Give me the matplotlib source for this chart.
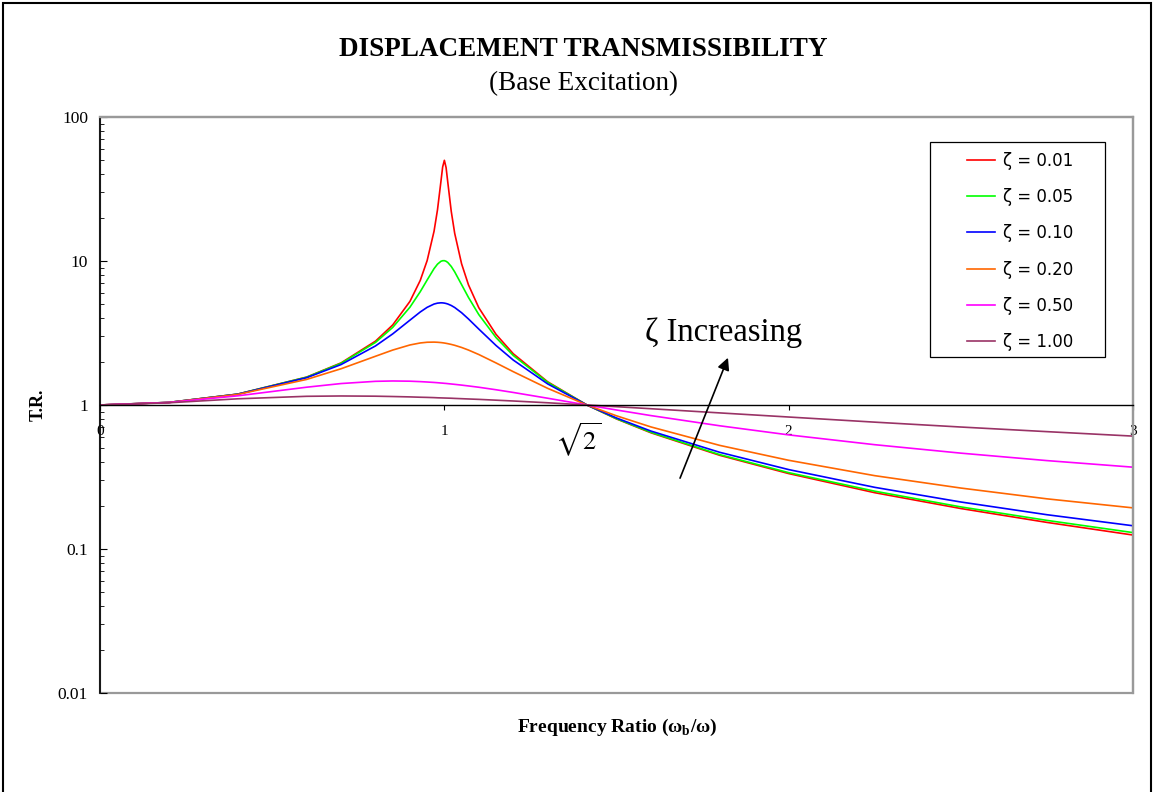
import matplotlib.pyplot as plt
from matplotlib.patches import Rectangle
from matplotlib.ticker import FixedLocator, FixedFormatter, LogLocator, NullFormatter

plt.rcParams['font.family'] = 'Liberation Serif'
plt.rcParams['mathtext.fontset'] = 'custom'
plt.rcParams['mathtext.rm'] = 'Liberation Serif'
plt.rcParams['mathtext.bf'] = 'Liberation Serif:bold'

# frequency ratio
ratio = [0, 0.2, 0.4, 0.6, 0.7, 0.8, 0.85, 0.9, 0.93, 0.95,
         0.97, 0.98, 0.99, 0.995, 1.0, 1.005, 1.01, 1.02, 1.03, 1.05,
         1.07, 1.1, 1.15, 1.2, 1.3, 1.414, 1.5, 1.6, 1.8, 2.0,
         2.25, 2.5, 2.75, 3.0]

tr_001 = [1, 1.042, 1.190, 1.562, 1.960, 2.775, 3.597, 5.241, 7.334, 10.07,
          16.08, 22.64, 35.63, 44.93, 50.01, 44.53, 35.10, 22.10, 15.56, 9.560,
          6.829, 4.737, 3.094, 2.270, 1.449, 1.0, 0.800, 0.641, 0.447, 0.334,
          0.246, 0.191, 0.153, 0.125]
tr_005 = [1, 1.042, 1.190, 1.559, 1.947, 2.720, 3.458, 4.776, 6.123, 7.379,
          8.845, 9.506, 9.951, 10.04, 10.05, 9.95, 9.760, 9.162, 8.401, 6.853,
          5.583, 4.244, 2.940, 2.208, 1.436, 1.0, 0.803, 0.646, 0.452, 0.339,
          0.252, 0.196, 0.158, 0.130]
tr_010 = [1, 1.042, 1.189, 1.547, 1.909, 2.571, 3.117, 3.882, 4.425, 4.766,
          5.023, 5.096, 5.123, 5.117, 5.099, 5.068, 5.026, 4.908, 4.753, 4.373,
          3.957, 3.367, 2.590, 2.052, 1.401, 1.0, 0.812, 0.659, 0.469, 0.356,
          0.268, 0.212, 0.173, 0.145]
tr_020 = [1, 1.041, 1.184, 1.505, 1.785, 2.180, 2.407, 2.611, 2.696, 2.727,
          2.733, 2.726, 2.713, 2.704, 2.693, 2.680, 2.666, 2.634, 2.597, 2.509,
          2.407, 2.241, 1.959, 1.704, 1.305, 1.0, 0.841, 0.704, 0.524, 0.413,
          0.323, 0.265, 0.223, 0.193]
tr_050 = [1, 1.040, 1.158, 1.329, 1.409, 1.460, 1.468, 1.463, 1.453, 1.444,
          1.434, 1.428, 1.421, 1.418, 1.414, 1.411, 1.407, 1.399, 1.391, 1.374,
          1.356, 1.328, 1.276, 1.222, 1.114, 1.0, 0.923, 0.844, 0.717, 0.620,
          0.530, 0.463, 0.411, 0.370]
tr_100 = [1, 1.036, 1.104, 1.149, 1.155, 1.151, 1.145, 1.138, 1.132, 1.129,
          1.125, 1.122, 1.120, 1.119, 1.118, 1.117, 1.116, 1.114, 1.111, 1.106,
          1.101, 1.094, 1.080, 1.066, 1.036, 1.0, 0.973, 0.942, 0.881, 0.825,
          0.760, 0.703, 0.653, 0.608]

labels = ['ζ = 0.01', 'ζ = 0.05', 'ζ = 0.10', 'ζ = 0.20', 'ζ = 0.50', 'ζ = 1.00']
colors = ['#FF0000', '#00FF00', '#0000FF', '#FF6600', '#FF00FF', '#993366']
series = [tr_001, tr_005, tr_010, tr_020, tr_050, tr_100]

fig = plt.figure(figsize=(11.54, 7.92), dpi=100)
ax = fig.add_axes([0.0867, 0.125, 0.8951, 0.7273])

for vals, lab, col in zip(series, labels, colors):
    ax.plot(ratio, vals, color=col, lw=1.2, label=lab)

ax.set_yscale('log')
ax.set_ylim(0.01, 100)
ax.set_xlim(0, 3)

ax.yaxis.set_major_locator(FixedLocator([0.01, 0.1, 1, 10, 100]))
ax.yaxis.set_major_formatter(FixedFormatter(['0.01', '0.1', '1', '10', '100']))
ax.yaxis.set_minor_locator(LogLocator(base=10, subs=range(2, 10)))
ax.yaxis.set_minor_formatter(NullFormatter())
ax.tick_params(axis='y', which='major', direction='in', length=5, width=0.8,
               labelsize=12.5, pad=8.6)
ax.tick_params(axis='y', which='minor', direction='in', length=3, width=0.6)

ax.set_xticks([0, 1, 2, 3])
ax.set_xticklabels(['0', '1', '2', '3'])
ax.tick_params(axis='x', direction='out', length=3.6, width=0.8, labelsize=11, pad=11)

# x axis crosses at 1
ax.spines['bottom'].set_position(('data', 1))
ax.spines['bottom'].set_color('black')
ax.spines['bottom'].set_linewidth(1.0)
ax.spines['left'].set_color('black')
ax.spines['left'].set_linewidth(1.2)
ax.spines['top'].set_color('#999999')
ax.spines['right'].set_color('#999999')
ax.spines['top'].set_linewidth(1.6)
ax.spines['right'].set_linewidth(1.6)
ax.add_patch(Rectangle((0, 0), 1, 1, transform=ax.transAxes, fill=False,
                       edgecolor='#999999', lw=1.6, clip_on=False, zorder=0))

fig.text(0.033, 0.489, 'T.R.', fontsize=13, fontweight='bold', rotation=90,
         ha='center', va='center')
fig.text(0.5347, 0.081, r'Frequency Ratio (ω$_\mathbf{b}$/ω)', fontsize=14,
         fontweight='bold', ha='center', va='center')

fig.text(0.5052, 0.937, 'DISPLACEMENT TRANSMISSIBILITY', fontsize=19.5,
         fontweight='bold', ha='center', va='center')
fig.text(0.5052, 0.895, '(Base Excitation)', fontsize=19.5, ha='center', va='center')

# legend
ax.add_patch(Rectangle((0.803, 0.583), 0.170, 0.373, transform=ax.transAxes,
                       fill=False, edgecolor='black', lw=0.9, zorder=5))
ax.legend(loc='upper left', bbox_to_anchor=(0.839, 0.940), frameon=False,
          borderpad=0, borderaxespad=0, handlelength=1.68, handletextpad=0.48,
          labelspacing=1.10, prop={'family': ['DejaVu Sans'], 'size': 12})

ax.text(0.4627, 0.439, r'$\sqrt{2}$', transform=ax.transAxes, fontsize=19,
        math_fontfamily='stix', ha='center', va='center')
ax.text(0.604, 0.625, 'ζ Increasing', transform=ax.transAxes, fontsize=23.5,
        ha='center', va='center')
ax.annotate('', xy=(0.6079, 0.582), xytext=(0.5615, 0.373),
            xycoords='axes fraction', textcoords='axes fraction',
            arrowprops=dict(arrowstyle='-|>', color='black', lw=1.2,
                            mutation_scale=18, shrinkA=0, shrinkB=0))

fig.patches.append(Rectangle((0.003, -0.01), 0.994, 1.006, transform=fig.transFigure,
                             fill=False, edgecolor='black', lw=1.5))

fig.savefig('out.png', dpi=100)
